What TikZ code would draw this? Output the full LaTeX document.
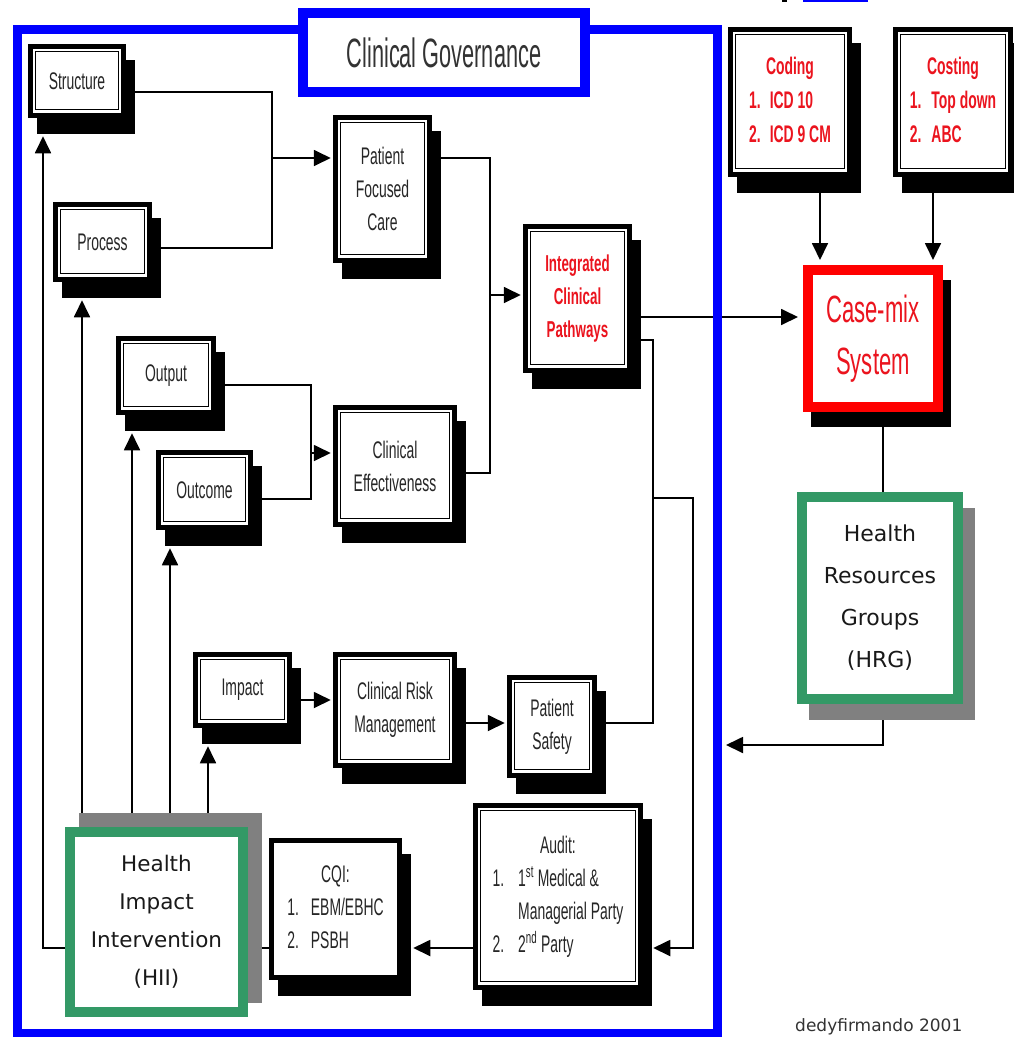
\documentclass[tikz,border=0pt]{standalone}
\usepackage{fontspec}
\setmainfont{Liberation Sans}
\newfontfamily\nar[FakeStretch=0.58]{Liberation Sans}
\newfontfamily\cgf[FakeStretch=0.53]{Liberation Sans}
\newfontfamily\hand{DejaVu Sans}
\usetikzlibrary{arrows.meta,calc}
\definecolor{cgblue}{RGB}{0,0,255}
\definecolor{grn}{RGB}{51,153,102}
\definecolor{shgray}{RGB}{128,128,128}
\definecolor{txtred}{RGB}{235,20,30}
\pgfdeclarelayer{bg}
\pgfsetlayers{bg,main}
\begin{document}
\begin{tikzpicture}[x=1pt,y=-1pt,
  ln/.style={line width=1.8pt, black},
  arr/.style={ln, -{Triangle[length=17pt,width=16pt]}},
  bxbase/.style={draw=black, line width=5.5pt, fill=white, inner sep=0pt, align=center,
     font=\nar\fontsize{24}{33}\selectfont, text=black!85,
     preaction={draw=black, fill=black, transform canvas={shift={(9pt,-16pt)}}}},
  bx/.style={bxbase,
     path picture={\draw[line width=1.2pt] ([shift={(5pt,-5pt)}]path picture bounding box.north west) rectangle ([shift={(-5pt,6pt)}]path picture bounding box.south east);}},
  redtxt/.style={text=txtred, font=\nar\bfseries\fontsize{24}{34}\selectfont},
  greenbox/.style={draw=grn, line width=10pt, fill=white, inner sep=0pt, align=center, text=black!90}
]
\useasboundingbox (0,0) rectangle (1014,1037);

% top fragments
\fill[cgblue] (803,0) rectangle (868,2);
\fill[black] (782,0) rectangle (787,1.5);

% governance frame
\node[draw=cgblue, line width=9pt, minimum width=700pt, minimum height=1004pt, inner sep=0pt] (frame) at (367,531) {};
\node[draw=cgblue, line width=10pt, fill=white, minimum width=282pt, minimum height=79pt, inner sep=0pt,
      font=\cgf\fontsize{41}{41}\selectfont, text=black!80] (cg) at (444,52.5) {Clinical Governance};

% boxes
\node[bx, minimum width=93pt, minimum height=69pt] (struct) at (77,81) {Structure};
\node[bx, minimum width=94pt, minimum height=75pt] (proc) at (102.5,242) {Process};
\node[bx, minimum width=94pt, minimum height=143pt] (pfc) at (382.5,189) {Patient\\Focused\\Care};
\node[bx, minimum width=104pt, minimum height=144pt, text=txtred, font=\nar\bfseries\fontsize{23}{33}\selectfont] (icp) at (577.5,298.5) {Integrated\\Clinical\\Pathways};
\node[bx, minimum width=95pt, minimum height=74pt] (outp) at (166,375.5) {Output};
\node[bx, minimum width=92pt, minimum height=75pt] (outc) at (204.5,490) {Outcome};
\node[bx, minimum width=119pt, minimum height=117pt] (ce) at (395,466) {Clinical\\Effectiveness};
\node[bx, minimum width=94pt, minimum height=71pt] (imp) at (242.5,690) {Impact};
\node[bx, minimum width=119pt, minimum height=111pt] (crm) at (395,710) {Clinical Risk\\Management};
\node[bx, minimum width=85pt, minimum height=98pt] (ps) at (552,726.5) {Patient\\Safety};
\node[bx, minimum width=165pt, minimum height=182pt] (aud) at (558,896.5)
  {\begin{tabular}{@{}l@{\hspace{14pt}}l@{}}\multicolumn{2}{c}{Audit:}\\ 1. & 1\textsuperscript{st} Medical \&\\ & Managerial Party\\ 2. & 2\textsuperscript{nd} Party\end{tabular}};
\node[bxbase, minimum width=128pt, minimum height=137pt] (cqi) at (335.5,909)
  {\begin{tabular}{@{}l@{\hspace{12pt}}l@{}}\multicolumn{2}{c}{CQI:}\\ 1. & EBM/EBHC\\ 2. & PSBH\end{tabular}};
\node[bx, minimum width=119pt, minimum height=145pt, redtxt] (cod) at (790,102)
  {\begin{tabular}{@{}l@{\hspace{9pt}}l@{}}\multicolumn{2}{c}{Coding}\\ 1. & ICD 10\\ 2. & ICD 9 CM\end{tabular}};
\node[bx, minimum width=115pt, minimum height=145pt, redtxt] (cost) at (953,102)
  {\begin{tabular}{@{}l@{\hspace{10pt}}l@{}}\multicolumn{2}{c}{Costing}\\ 1. & Top down\\ 2. & ABC\end{tabular}};

\node[draw=red, line width=10pt, fill=white, inner sep=0pt, minimum width=130pt, minimum height=137pt,
      preaction={draw=black, fill=black, transform canvas={shift={(8pt,-15pt)}}},
      align=center, font=\nar\fontsize{38}{52}\selectfont, text=txtred] (cm) at (873,338.5) {Case-mix\\System};

\node[greenbox, minimum width=156pt, minimum height=202pt,
      preaction={draw=shgray, fill=shgray, transform canvas={shift={(12pt,-16pt)}}},
      font=\hand\fontsize{22}{42}\selectfont] (hrg) at (880,598) {Health\\Resources\\Groups\\(HRG)};

\node[greenbox, minimum width=173pt, minimum height=180pt,
      preaction={draw=shgray, fill=shgray, transform canvas={shift={(14pt,14pt)}}},
      font=\hand\fontsize{21.5}{38}\selectfont] (hii) at (156.5,922) {Health\\Impact\\Intervention\\(HII)};

\node[font=\hand\fontsize{17}{17}\selectfont, anchor=base west, text=black!80, inner sep=0pt] (sig) at (795,1031) {dedyfirmando 2001};

% connectors
\begin{pgfonlayer}{bg}
\draw[ln] (struct.center |- 0,92) -- (272,92) -- (272,248) -- (proc.center |- 0,248);
\draw[arr, shorten >=2pt] (272,158) -- (pfc.west |- 0,158);
\draw[ln] (pfc.center |- 0,158) -- (490,158) -- (490,473) -- (ce.center |- 0,473);
\draw[arr, shorten >=2pt] (490,295) -- (icp.west |- 0,295);
\draw[ln] (outp.center |- 0,385) -- (311,385) -- (311,499) -- (outc.center |- 0,499);
\draw[arr, shorten >=2pt] (311,453) -- (ce.west |- 0,453);
\draw[arr, shorten >=5pt] (icp.center |- 0,317) -- (cm.west |- 0,317);
\draw[arr, shorten >=5pt] (cod.center -| 820,0) -- (cm.north -| 820,0);
\draw[arr, shorten >=5pt] (cost.center -| 933,0) -- (cm.north -| 933,0);
\draw[ln] (cm.center -| 883,0) -- (hrg.center -| 883,0);
\draw[arr, shorten >=4.5pt] (hrg.center -| 883,0) -- (883,745) -- (frame.east |- 0,745);
\draw[arr, shorten >=10pt] (icp.center |- 0,340) -- (653,340) -- (653,498) -- (693,498) -- (693,948) -- (aud.east |- 0,948);
\draw[ln] (ps.center |- 0,723) -- (653,723) -- (653,498);
\draw[arr, shorten >=2pt] (imp.center |- 0,700) -- (crm.west |- 0,700);
\draw[arr, shorten >=2pt] (crm.center |- 0,723) -- (ps.west |- 0,723);
\draw[arr, shorten >=11pt] (aud.center |- 0,948) -- (cqi.east |- 0,948);
\draw[ln] (cqi.center |- 0,948) -- (hii.center |- 0,948);
\draw[arr, shorten >=18pt] (hii.center |- 0,948) -| (struct.south -| 43,0);
\draw[arr, shorten >=18pt] (hii.center -| 82,0) -- (proc.south -| 82,0);
\draw[arr, shorten >=18pt] (hii.center -| 132,0) -- (outp.south -| 132,0);
\draw[arr, shorten >=18pt] (hii.center -| 170,0) -- (outc.south -| 170,0);
\draw[arr, shorten >=18pt] (hii.center -| 208,0) -- (imp.south -| 208,0);
\end{pgfonlayer}
\end{tikzpicture}
\end{document}
